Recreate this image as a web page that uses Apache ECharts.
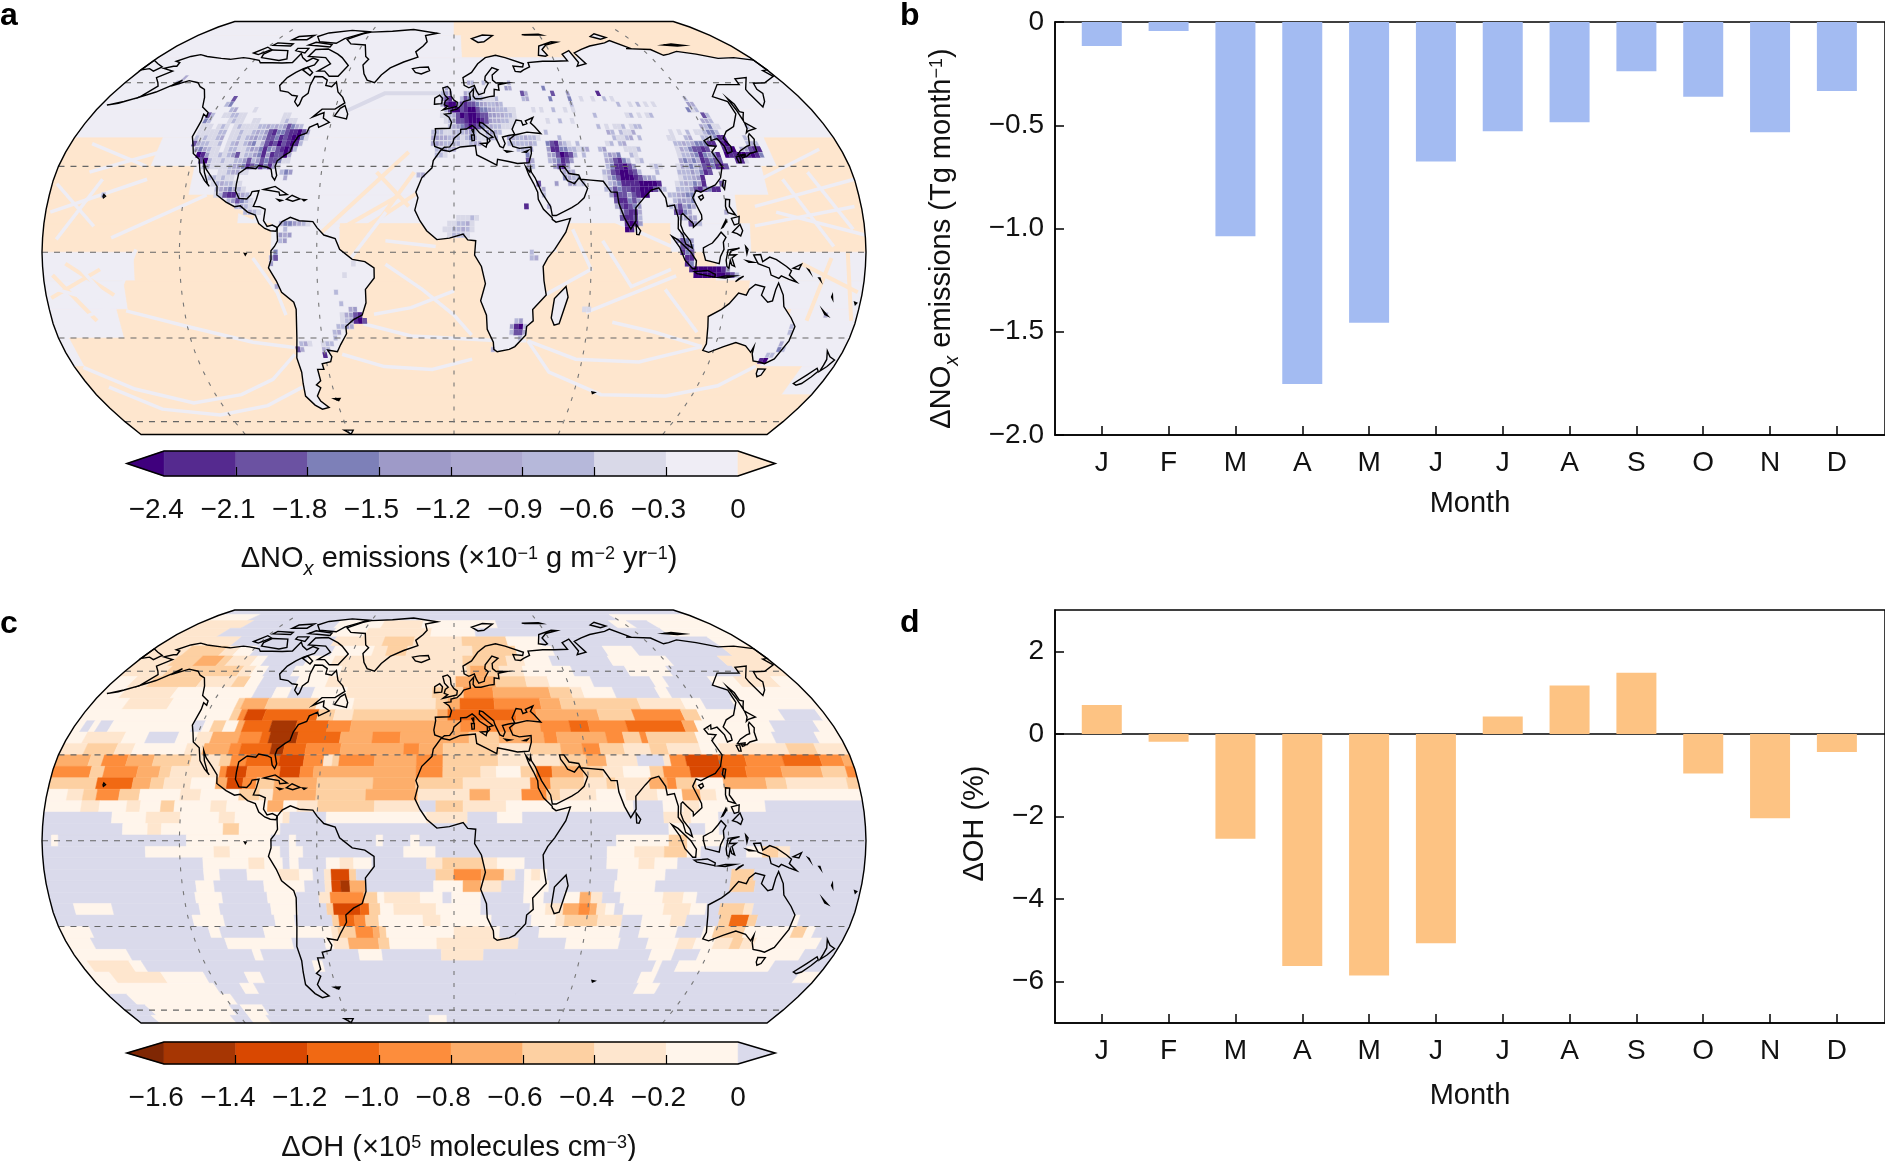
<!DOCTYPE html>
<html lang="en">
<head>
<meta charset="UTF-8">
<title>NOx and OH changes</title>
<script src="https://cdn.jsdelivr.net/npm/echarts@6/dist/echarts.min.js"></script>
<style>
  body { margin: 0; background: #fff; }
  #chart { width: 1885px; height: 1161px; }
</style>
</head>
<body>
<div id="chart"></div>
<script>
// monthly bars
const months = ['J','F','M','A','M','J','J','A','S','O','N','D']
const noxMonthly = [-0.116,-0.044,-1.038,-1.753,-1.456,-0.675,-0.529,-0.485,-0.238,-0.362,-0.534,-0.334]
const ohMonthly = [0.70,-0.19,-2.54,-5.62,-5.85,-5.07,0.42,1.17,1.48,-0.96,-2.04,-0.44]
const ohTicks = [-6,-4,-2,0,2]

// colour bars
const noxBounds = [-2.4,-2.1,-1.8,-1.5,-1.2,-0.9,-0.6,-0.3,0]
const ohBounds = [-1.6,-1.4,-1.2,-1.0,-0.8,-0.6,-0.4,-0.2,0]
const noxColors = ['#3f007d','#552a8f','#6b52a2','#7d80b8','#9e9ac8','#aca8d0','#b6b8da','#d9d9e8','#efedf5','#fee6ce']
const ohColors = ['#7f2704','#a63603','#d94801','#f16913','#fd8d3c','#fdae6b','#fdd0a2','#fee6ce','#fff5eb','#dadaeb']

// dOH map: [lat, [lon, class, lon, class ...]] 4 deg rows, class 0 = above zero, 9 = darkest
const ohLevels = ['#dadaeb','#fff5eb','#fee6ce','#fdd0a2','#fdae6b','#fd8d3c','#f16913','#d94801','#a63603','#7f2704']
const ohRows = [
[88,[-180,0]],
[84,[-180,1,-150,0,120,1]],
[80,[-180,2,-145,0,-82,1,-50,2,-22,1,30,0,112,1,125,0,140,1]],
[76,[-180,2,-152,0,-80,1,-58,2,-15,1,14,0,140,1]],
[72,[-180,2,-136,0,-75,2,-44,3,-25,2,5,3,33,1,54,0,162,1]],
[68,[-180,2,-159,3,-137,2,-129,1,-119,0,-72,1,-48,2,-40,3,-28,2,11,3,37,1,59,0,90,1,108,0,162,2]],
[64,[-180,2,-160,3,-146,4,-133,3,-128,2,-114,1,-108,0,-84,1,-69,2,5,3,30,2,40,1,55,0,89,1,123,0,153,2]],
[60,[-180,2,-157,3,-117,2,-110,1,-103,0,-88,1,-62,2,7,3,9,4,18,3,25,2,38,1,65,0,95,1,118,0,155,2]],
[56,[-180,1,-170,2,-160,3,-134,2,-116,3,-109,1,-102,0,-83,1,-67,2,1,4,22,3,38,2,50,1,73,0,105,1,112,0,136,1,150,2,170,1]],
[52,[-180,1,-169,2,-143,1,-102,0,-92,1,-84,0,-72,1,-55,2,-11,3,5,5,20,4,49,3,60,2,66,1,82,0,104,1,110,0,141,1]],
[48,[-180,1,-163,2,-141,1,-108,3,-105,4,-93,3,-68,1,-50,2,-9,3,-3,4,3,6,20,5,43,4,53,3,92,2,114,1,124,0,139,1]],
[44,[-180,1,-108,3,-104,5,-101,7,-92,6,-66,3,-58,2,-49,3,-8,4,-3,6,30,5,40,4,70,3,87,5,111,3,119,1,159,0,177,1]],
[40,[-180,1,-176,0,-172,1,-169,0,-163,1,-124,0,-119,1,-115,3,-109,1,-103,4,-100,6,-87,8,-75,6,-60,5,-49,4,3,5,28,4,41,5,55,6,64,5,82,6,109,4,115,1,151,0,172,1]],
[36,[-180,1,-172,2,-154,1,-143,0,-129,1,-120,2,-113,4,-100,5,-90,6,-86,8,-73,6,-53,4,-38,5,-25,4,7,3,21,4,42,5,48,4,71,5,79,3,87,5,90,3,113,1,149,0,169,1]],
[32,[-180,2,-169,3,-155,2,-147,1,-123,2,-115,4,-103,5,-98,6,-84,8,-78,6,-68,5,-52,4,-23,5,-16,4,-5,3,21,2,35,3,49,4,59,5,67,3,78,2,90,3,98,2,113,1,122,2,153,3,166,2]],
[28,[-180,4,-165,3,-159,5,-148,4,-136,3,-119,2,-106,3,-101,5,-94,6,-79,7,-68,5,-59,2,-55,3,-52,5,-36,4,-17,5,-5,3,20,2,48,3,60,4,69,2,83,0,95,2,98,5,105,7,120,6,132,5,149,6,166,5,176,4]],
[24,[-180,5,-163,3,-157,5,-142,4,-132,3,-127,2,-105,5,-102,7,-93,5,-78,7,-69,5,-63,4,-17,5,-5,3,12,2,19,1,30,3,37,6,44,4,58,3,67,2,76,1,88,3,94,5,106,7,121,6,131,5,147,4,165,3,176,5]],
[20,[-180,3,-159,6,-143,4,-135,3,-129,2,-117,1,-106,4,-101,7,-94,5,-88,3,-80,4,-61,3,-36,4,-17,3,4,2,34,5,43,3,58,2,68,3,72,2,87,4,95,5,99,3,108,1,120,4,139,3,148,2,175,3]],
[16,[-180,1,-171,2,-164,3,-158,5,-148,3,-139,1,-121,2,-112,1,-95,3,-86,2,-80,4,-61,3,-39,4,-16,2,7,4,16,2,30,5,41,3,47,2,63,1,76,2,90,1,101,4,109,2,116,1]],
[12,[-180,1,-164,2,-156,1,-144,2,-138,1,-129,3,-123,1,-107,2,-100,1,-82,4,-75,1,-69,2,-60,3,-35,2,-15,0,-8,3,4,2,23,1,79,0,92,1,101,2,108,1,137,0]],
[8,[-180,0,-150,1,-135,2,-120,1,-103,2,-96,1,-75,2,-72,0,-56,1,-12,2,6,0,19,1,30,0,92,2,104,1,116,0]],
[4,[-180,0,-145,1,-134,2,-128,1,-101,3,-94,1,-76,0,94,1,103,0,110,1,116,0]],
[0,[-180,0,-176,1,-173,0,-117,1,-80,0,-72,1,-69,0,-34,1,-31,0,-19,1,-15,0,71,1,94,3,102,1,118,0]],
[-4,[-180,0,-135,1,-105,2,-98,1,-76,0,-72,1,-66,0,-22,1,-8,0,67,1,79,2,92,3,102,1,108,0,128,1,135,3,142,2,147,0]],
[-8,[-180,0,-110,1,-90,2,-83,1,-75,0,-72,1,-68,0,-56,1,-50,2,-44,1,-36,0,-12,2,-5,3,13,2,19,1,31,0,67,1,81,2,88,1,98,0]],
[-12,[-180,0,-110,1,-103,0,-91,1,-77,2,-68,1,-62,0,-57,2,-54,7,-46,3,-43,0,-8,3,0,5,12,4,22,2,27,0,31,1,34,2,38,1,41,0,72,1,93,0,122,3,132,0]],
[-16,[-180,0,-114,1,-106,0,-84,1,-66,0,-57,2,-54,7,-50,8,-46,4,-39,0,-9,1,4,4,12,2,21,0,31,1,42,0,71,1,89,0,122,3,133,0]],
[-20,[-180,0,-115,1,-103,0,-83,1,-70,0,-60,2,-55,5,-40,3,-34,1,-31,2,-15,1,-5,0,-1,1,12,0,31,1,40,0,49,1,56,4,61,2,66,0,74,1,93,2,102,1,108,0]],
[-24,[-180,0,-170,1,-153,0,-114,1,-105,0,-82,1,-70,0,-57,3,-54,7,-42,6,-38,3,-33,1,-27,2,-8,1,12,0,34,1,41,2,49,4,56,5,61,4,64,2,68,1,72,0,76,1,94,2,106,1,113,0,119,3,130,2,134,0]],
[-28,[-180,0,-118,1,-104,0,-81,1,-72,0,-55,3,-52,6,-45,5,-40,3,-34,1,-14,2,-6,1,17,0,35,1,46,2,50,3,65,2,76,0,85,1,98,2,105,0,120,3,125,6,133,3,137,0,153,1,156,0]],
[-32,[-180,1,-166,0,-112,1,-107,0,-87,1,-56,2,-53,3,-45,5,-37,4,-34,3,-31,1,0,2,18,1,21,0,39,1,76,0,85,1,102,0,114,1,119,3,133,1,155,3,161,1,165,0]],
[-36,[-180,1,-168,0,-106,1,-75,0,-60,1,-56,2,-49,4,-35,3,-30,1,-8,2,30,0,52,1,77,0,90,1,104,2,112,1,121,2,129,3,134,2,140,1,170,0]],
[-40,[-180,1,-154,0,-95,1,-91,0,-45,1,-34,0,-6,2,14,0,93,1,104,0,116,1,165,0]],
[-44,[-180,1,-176,2,-156,1,-150,0,-68,1,-63,0,97,1,100,0,108,1,154,0]],
[-48,[-180,1,-169,2,-144,1,-123,0,-103,1,-95,0,92,1,100,0,170,1]],
[-52,[-180,1,-121,0,-108,1,-101,0,93,1,104,0]],
[-56,[-180,0,-170,1,-116,0]],
[-60,[-180,0,-166,1,-121,0,-115,1,-103,0]],
[-64,[-180,0,-169,1,-125,0,-115,1,-105,0,-14,1,-4,0]]
]

// dNOx map ocean: 10 deg rows, 0 = above zero, 1 = slightly below
const noxOceanColors = ['#fee6ce','#eeedf5']
const noxOceanRows = [
[85,[-180,1,0,0]],
[75,[-180,1,5,0]],
[65,[-180,1]],
[55,[-180,1]],
[45,[-180,1]],
[35,[-180,0,-138,1,147,0]],
[25,[-180,0,-118,1,140,0]],
[15,[-180,0,-95,1,125,0]],
[5,[-180,0,-80,1,-50,0,12,1,45,0,95,1,130,0]],
[-5,[-180,1,-140,0,115,1]],
[-15,[-180,1,-145,0,130,1]],
[-25,[-180,1,-150,0,150,1]],
[-35,[-180,1,-175,0,145,1]],
[-45,[-180,0,165,1]],
[-55,[-180,0]],
[-65,[-180,0]]
]

// ship tracks, lon/lat polylines
const laneColor = '#eeedf5'
const noxLanes = [
[[-146,-20.5],[-120,-26],[-92,-31.5],[-73.5,-33.3]],
[[-74,-35.7],[-88,-44.5],[-107,-50],[-134,-53],[-158.5,-48],[-176,-40.3]],
[[-75,-47.3],[-96.7,-54],[-125,-57.5],[-153,-55.3],[-170.7,-47.3]],
[[33.7,-31],[57,-37.4],[87,-38.4],[114,-33]],
[[33.7,-31],[45.5,-42],[74,-50],[107,-50.5],[130,-46.8],[143,-39.8]],
[[-52,-35.7],[-33,-40],[-10.4,-41],[8.5,-37.4]],
[[-40.7,-25],[-19.5,-29.3],[16.7,-30.8],[33,-31]],
[[-35.7,-21.7],[-19,-19.4],[0,-13.5]],
[[-30,-4.2],[-14,-13],[0,-22],[8,-29]],
[[-88,-2],[-78,-14],[-75,-22]],
[[93,-13],[110,-28]],
[[58.8,-21],[97.4,-8.3]],
[[71,-24.5],[91,-28],[114,-33]],
[[-151,-18.8],[-167,-2.4]],
[[-151,-18.8],[-139,1]],
[[-151,-18.8],[-175,-13]],
[[-151,-18.8],[-177,-25.8]],
[[133,16],[180,25.5]],
[[132,9.2],[177,16]],
[[147.7,25.5],[166,2]],
[[160,28],[175,8]],
[[128,22],[170,36]],
[[142,14],[180,6]],
[[-178,14],[-138,25.5]],
[[-174,4.5],[-158,25.5]],
[[-158,9],[-178,24]],
[[-165,28],[-128,37]],
[[-170,38],[-140,30]],
[[-150,5],[-110,20]],
[[-45,-2],[-30,14]],
[[-30,4],[-8,2]],
[[52,8],[60,-6],[40,-15]],
[[62,14],[95,2]],
[[65,4],[78,-12],[95,-6]]
]
const noxPeachStreaks = [
[[-58,7],[-21,35]],
[[-50,8],[-24,20]],
[[-42,7],[-12,23]],
[[-34,10],[-18,28]],
[[-35,28],[-20,16]],
[[-170,-4],[-150,-15]],
[[-178,-16],[-155,-6]],
[[-176,-8],[-160,-24]],
[[152,-4],[178,-14]],
[[165,-2],[158,-24]],
[[172,2],[178,-24]],
[[155,2],[178,6]],
[[-88,12],[-100,16]]
]
const noxArc = [[-53.5,49.7],[-36.5,56],[-22.6,56],[-6,56]]

// dNOx hot spots: [lat, first lon, digits per 2 deg], 0 = nothing, 1..8 = weak..strong
const noxHot = [
[60,-152,'23'],[62,-150,'3'],[20,-156,'2'],
[54,-114,'6'],[52,-116,'25'],[50,-124,'0000002300001'],
[48,-124,'0620011221100000000011'],[46,-124,'052000012110011000001211'],
[44,-124,'0111012101211112232324653200'],[42,-124,'0111112201121123246755677863'],
[40,-124,'0212112301121234246657678851'],[38,-124,'0632211201231245136768678720'],
[36,-124,'0045321101221124357546787200'],[34,-124,'0008741121246122457476683000'],
[32,-124,'0000682112112246246566511000'],[30,-124,'0000023111123457657574100000'],
[28,-106,'112331100000002540'],[26,-112,'1221211000000000003'],
[24,-108,'1232211'],[22,-106,'2345321'],[20,-106,'12677432'],[18,-100,'246521'],[16,-96,'2321'],[14,-92,'2321'],
[10,-76,'3554321'],[8,-74,'2'],[6,-76,'434'],[4,-76,'24'],[0,-78,'5'],[-2,-80,'36'],[-4,-80,'4'],[-12,-78,'3'],
[-8,-48,'1'],[-4,-44,'1'],[-14,-52,'2'],[-18,-50,'2'],[-20,-46,'34'],[-22,-50,'13467'],[-24,-50,'124786'],[-26,-52,'2243'],
[-28,-54,'23'],[-30,-54,'2'],[-32,-70,'231'],[-32,-60,'122'],[-34,-72,'63'],[-34,-60,'32'],[-36,-60,'7'],
[-24,28,'24'],[-26,26,'4782'],[-28,26,'2663'],[-30,30,'2'],[-34,18,'3'],
[12,2,'11121'],[10,-2,'112231'],[8,-4,'1122321'],[6,-2,'12221'],[16,32,'7'],[-2,34,'23'],[0,34,'2'],
[34,-8,'221'],[27,-16,'23'],[24,38,'6'],
[60,8,'32'],[60,16,'2'],[60,30,'3'],[58,-4,'3'],[58,10,'2'],[58,28,'43'],[58,48,'5'],
[56,-6,'24300032111'],[56,36,'63'],[56,52,'6'],[56,60,'4'],[56,76,'7'],[54,-6,'367002652221112'],[54,36,'23'],[54,50,'5'],[54,60,'5'],
[52,-6,'3788467665432232'],[52,60,'2'],[52,84,'2'],[50,-6,'0268867886554332211'],[50,22,'22001'],
[48,-6,'1123687887664433221'],[48,70,'2'],[46,-4,'124667888764332211'],[44,-2,'2345687653322111'],
[42,-10,'22211322342114432'],[40,-10,'3433232125311233'],[40,26,'43223221'],[38,-10,'343222211233'],[38,26,'2222232'],
[36,-8,'22323'],[36,30,'2224'],[34,34,'5'],[32,34,'63'],[30,34,'32'],
[42,44,'2'],[40,50,'2'],[38,44,'567421'],[38,58,'2'],[36,44,'4775522'],[36,56,'2123'],[34,44,'3468762'],[34,60,'2'],
[32,44,'245764'],[30,46,'4673'],[28,50,'343'],[26,50,'5322'],[24,52,'4412'],[24,46,'4'],[22,40,'3'],[20,40,'2'],[16,42,'3'],
[54,66,'1001002010'],[52,90,'1020101'],[50,40,'10100200101'],[48,86,'1201012'],[46,46,'1002001'],[44,70,'20101120122'],[42,74,'3202113'],[40,76,'2112302'],[38,72,'12023'],
[36,68,'24'],[36,80,'1112'],[34,70,'2435'],[34,82,'21'],[32,70,'346752'],[32,84,'12'],[30,70,'2577864'],[30,90,'121'],[28,68,'236788762'],[28,92,'2'],[26,68,'135688876442'],
[24,68,'1245777788887'],[22,68,'24656677888642'],[20,70,'476646788'],[18,72,'677564'],[16,72,'367654'],[14,74,'46773'],[12,74,'67762'],[10,76,'7874'],[8,76,'87'],
[54,120,'2'],[52,120,'43'],[50,118,'512'],[48,124,'62'],[46,122,'332'],[44,120,'32511'],[42,104,'101020112552'],
[40,102,'11002300222577'],[38,104,'2232355577'],[36,104,'13256676'],[34,104,'1224575457'],[32,104,'3535376566'],
[30,102,'132524675786'],[28,102,'22242576'],[26,102,'122347'],[24,100,'1232547'],[24,120,'6'],[22,100,'2224677'],[22,112,'4577'],[20,96,'2234'],
[20,104,'55'],[18,98,'24432'],[18,104,'35'],[16,96,'246453'],[14,98,'6753'],[14,120,'3'],[12,100,'2343'],[10,104,'642'],
[38,126,'78'],[36,126,'778'],[34,126,'87'],[44,142,'2'],[40,138,'2'],[38,138,'232'],[36,134,'34677'],[34,130,'7887875'],[32,130,'771'],
[6,100,'3'],[4,98,'4'],[4,100,'654'],[2,100,'665'],[0,100,'756'],[-2,102,'77'],[-4,102,'75'],[-6,104,'788888874'],[-8,106,'8888888762'],
[-20,58,'11'],[-22,166,'3'],[-26,152,'2'],[-28,152,'2'],[-32,150,'3'],[-34,150,'52'],[-36,146,'22'],[-38,144,'78']
]

// coast outlines, lon/lat
const americaNorth = [[-168,65.6],[-164,66.5],[-162,66.5],[-163,68],[-166,68.5],[-161,70.5],[-156.5,71.3],[-151,70.5],[-141,69.7],[-135,69.3],[-128,70],[-124,69.7],[-117,68.9],[-115,67.9],[-108,67.9],[-102,67.8],[-96,68],[-95,71.8],[-92,70],[-88,68.5],[-85.5,69.8],[-81.5,69],[-82,67],[-87,65.5],[-90,64],[-93,62],[-94.5,59],[-92.5,57],[-88,56.5],[-85,55.3],[-82,55],[-82,52.9],[-79.5,51.3],[-79,52],[-79,54.5],[-77,56],[-78,59],[-78,62.4],[-73.5,62.3],[-70,61],[-69.5,59],[-66,58.5],[-64.5,60.3],[-61.5,56.5],[-58,54.5],[-56,52.5],[-60,50.2],[-66.5,50.2],[-70,47.4],[-65,49],[-64.5,47],[-61,45.5],[-65.5,43.7],[-66.5,45],[-70,43.7],[-70.5,41.7],[-74,40.6],[-75.5,38],[-76,35],[-78,34],[-81,32],[-81.4,30],[-80,26.8],[-80.6,25.2],[-82,26.5],[-83,29],[-85,29.7],[-89,30.3],[-90,29.2],[-94,29.6],[-97.3,27.5],[-97.5,24],[-97.5,21.5],[-95.5,18.8],[-92,18.6],[-90.5,20],[-90,21.2],[-87,21.5],[-87.7,18.5],[-88.7,16],[-86,15.9],[-83.3,15],[-83.7,11],[-82,9],[-79.7,9.5],[-77.5,8.6],[-78,7.3],[-80.5,7.5],[-83,8.3],[-85.7,10],[-87.5,13],[-91,14],[-94.5,16.2],[-97,15.9],[-101,17.5],[-105.5,20],[-106,23],[-109,26],[-112.5,29],[-114.5,31.5],[-113,28],[-110.5,24],[-109.5,23],[-112,25],[-115,28],[-117,32.5],[-120.6,34.5],[-122.5,37.8],[-124.3,40.4],[-124,46],[-124.7,48.4],[-122.5,47.5],[-123,49],[-127.5,51],[-130,54.5],[-133.5,57.5],[-137,58.5],[-140,60],[-146,60.8],[-151.5,59.2],[-150,61],[-153,59],[-158,56.5],[-164,54.6],[-160,58.7],[-162,60],[-166,62],[-161,64.5]]
const americaSouth = [[-77.5,8.6],[-75.5,10.7],[-72,12.2],[-68,11],[-62,10.7],[-60,8.5],[-57,6],[-52,4.8],[-50,1],[-44.5,-2.5],[-39,-3.3],[-35,-5.5],[-35,-9],[-39,-13],[-39,-17.7],[-41,-22],[-45,-23.6],[-48.7,-26],[-48.7,-28.5],[-52,-32.3],[-54,-34.8],[-58.4,-34.2],[-57,-36.5],[-58,-38.3],[-62.2,-39],[-62,-41],[-65,-41],[-65,-45],[-67.7,-46.5],[-66,-47.5],[-69,-50.5],[-68.3,-52.3],[-65.2,-54.7],[-69,-55.3],[-72,-53.8],[-75,-50.5],[-74,-46],[-73,-42],[-73.5,-37],[-71.5,-30],[-70.2,-20],[-71,-17.5],[-76,-14],[-78,-10],[-81.2,-5.5],[-80,-2.5],[-80,0.5],[-78.5,2],[-77.2,4],[-77.5,7]]
const afroEurasia = [[-5.6,36],[-9,37],[-9.5,38.7],[-8.8,42],[-9,43.2],[-2,43.4],[-1.2,45.5],[-2.5,47.3],[-4.7,48.4],[-1.5,48.7],[-1.5,49.7],[1.5,50.2],[3.5,51.5],[5,53],[8.5,53.7],[8.2,56],[10.5,57.7],[10,55],[11,54],[14,54],[18.5,54.8],[21,55],[21.5,57.5],[24,57.2],[24,59.2],[29,59.9],[23,59.9],[21.3,61],[21.5,63],[25.3,65],[22,65.9],[17.5,62.5],[17,61],[18.7,59.8],[16.5,57.5],[16,56.2],[13,55.5],[12,56.8],[11,59],[8,58.1],[5.5,59],[5,62],[10,64],[14,67.5],[19,70],[25.5,71],[31,70],[41,67.5],[40,66.2],[34.5,66.6],[35,64.4],[38,64.2],[40,65],[44,66.2],[44,68],[53,68.5],[60,68.5],[68,68.7],[67,71.5],[72.5,73],[74,68],[72,66.5],[78,67.5],[75,72],[81,73.6],[88,75],[100,76.5],[105,77.6],[113,74],[110,73.9],[125,73.5],[129,71],[133,71.5],[140,72.7],[150,71.5],[160,69.7],[170,70],[180,69],[180,65],[177,64.7],[179,62.5],[170,60],[163.5,59.8],[162,57.5],[163,56],[160,53],[156.7,51],[155.7,56],[156,57.5],[163,62],[156,61.5],[155,59.3],[143,59.3],[135,54.8],[141,53],[140.5,48.5],[135.5,44],[130.7,42.3],[127.5,39.8],[129.4,37],[129,35.2],[126.5,34.5],[126.5,37],[124.5,39.7],[121.3,39],[122,40.5],[118,39],[119,37.3],[122.5,37],[119.5,35],[121,32],[122,30],[120,26],[117,23.5],[113.5,22.3],[110,21],[108,21.6],[106,19],[109,13],[109,11.5],[105,8.7],[105,10],[102.5,12],[100.8,13.5],[100,13],[99.5,9.5],[100.5,7],[103.3,4],[104.2,1.4],[101.3,2.9],[100.3,6],[98.3,8.2],[98.7,12],[97.5,16.5],[94.3,16],[94,19],[91.5,22.5],[88,21.7],[85,19.5],[80.3,15.5],[80,11],[77.5,8.1],[75,12],[73,17],[72.7,21],[70,21],[69,22.3],[67,24.8],[61.5,25.2],[57,25.5],[56.3,27],[52,27.5],[50,30],[48,30],[48.3,28.5],[50,26.5],[51,25],[54,24],[56.3,26],[58.5,23.7],[59.7,22.3],[57.8,19],[55,17],[52,15.6],[45,12.8],[43.3,12.8],[42.7,16],[39,21],[36.5,26],[35,28],[34.8,29.5],[34.3,28],[32.6,29.9],[33.8,27],[35.7,24],[37.3,21],[37.4,18.5],[39.5,15],[43.2,12],[43.2,11.5],[44.8,10.5],[51.2,11.8],[49,7],[44,1],[41,-2],[39,-5],[39.5,-10],[40.7,-15],[35,-20],[35.5,-24],[32.7,-26],[32.5,-29],[28,-33],[25.5,-34],[20,-34.8],[18.4,-34],[18,-31.5],[15,-27],[14.5,-22],[11.8,-17],[13.8,-11],[12,-5],[9,-1],[9.5,4],[6,4.3],[4,6.3],[-2,4.9],[-7.5,4.4],[-12,7.5],[-15,11],[-17.3,14.7],[-16,19],[-17,21],[-14.5,26],[-10,29.5],[-9.5,32],[-6,35.8],[-2,35.2],[3,36.8],[10,37.3],[10.5,34],[15,32.3],[19.5,30.4],[20,32.5],[25,31.7],[29,31],[32.3,31.2],[34.3,31.3],[35.8,34.5],[36,36.8],[30.5,36.3],[27.5,37],[26.3,39.5],[29,41],[35,42],[41.5,41.5],[39,44],[37.3,45.3],[39,47.2],[35,46],[35.5,45],[33.5,44.5],[33,46],[30.5,46.3],[28,43],[29,41.2],[26,40.8],[23,40.3],[24,38],[23,36.5],[21.5,37],[19.5,40.5],[19,42],[14,45.2],[12.5,45.5],[12.3,44.3],[16,41.8],[18.5,40.2],[16.5,39.8],[17,38.9],[15.7,38],[15.8,40],[12.2,41.8],[10.3,43.5],[8.8,44.4],[6,43.1],[3.2,43],[3.2,41.8],[0,39.8],[-0.5,38.3],[-2,36.8],[-4.5,36.7],[-5.4,36.1]]
const australia = [[113.6,-22.5],[114.3,-26],[115.7,-32],[115,-34.3],[118,-35],[124,-33],[129,-31.6],[134,-32.7],[137.5,-35],[138,-33],[138.5,-35.5],[140.5,-38],[144,-38.5],[146.5,-39],[150,-37.3],[153,-31],[153.5,-26],[150.8,-23],[146.5,-19],[145.3,-15],[142.6,-10.8],[141.7,-13],[141,-17],[139,-17.5],[135.7,-15],[136.7,-12.2],[132.5,-11.3],[130,-13],[129,-15],[125.5,-14.3],[122,-18],[119,-20]]
const greenland = [[-73,78.2],[-68,76],[-58,75.5],[-54,70.5],[-51.5,69.3],[-53.5,67],[-51,63.5],[-48,61],[-43.5,60],[-41,63],[-37,65.8],[-30,68.2],[-22,70.2],[-24,72.5],[-20,75],[-18,77],[-20,80],[-12,81.3],[-30,83.5],[-45,82.5],[-60,82],[-65,81]]
const islands = [
[[-180,68.9],[-175,67.5],[-170,66.2],[-172,64.5],[-176,65.5],[-180,65]],
[[-164,54.6],[-170,53],[-177,51.7],[-172,52.3]],
[[-80,73.7],[-72,71.5],[-68,70],[-62,66.8],[-65,62.5],[-70,62.5],[-74,64.5],[-78,64.5],[-73,67.5],[-78,70],[-89,70.5],[-88,73.5]],
[[-117,70],[-105,68.8],[-101,69.5],[-105,73],[-115,73.3],[-118,71.5]],
[[-125,72],[-121,71.3],[-116,73.5],[-120,74.5]],
[[-90,77],[-78,76.3],[-75,78.5],[-62,82.2],[-75,83],[-90,81.5],[-95,79.5]],
[[-95,75.5],[-80,74.6],[-80,75.7],[-92,76.8]],
[[-118,75.3],[-106,75],[-106,76],[-117,76.5]],
[[-100,73],[-93,72],[-93,74],[-100,74]],
[[-110,78],[-100,78],[-98,80],[-108,79.5]],
[[-87,65],[-81,62.8],[-80.5,64],[-85,66]],
[[-59.3,47.7],[-53,46.7],[-53,48.5],[-55.5,51.5],[-57.5,50.5]],
[[-24,65.5],[-22,64],[-18.5,63.4],[-14,64.7],[-15,66.2],[-20,66]],
[[-5.5,50],[1.4,51.2],[1.7,52.7],[0,53.5],[-1.5,55],[-2,57.5],[-3.5,58.6],[-6,58],[-5,55.5],[-3,54],[-4.5,53.2],[-5,51.8],[-3.2,51.3]],
[[-10,52],[-6.3,52.2],[-6,54.2],[-7.5,55.3],[-10,54.2]],
[[-84.9,21.9],[-80,23],[-74.2,20.2],[-77.5,19.9],[-78,21]],
[[-74.4,18.5],[-72,19.9],[-68.4,18.6],[-71.5,17.8]],
[[-78.3,18.4],[-76.3,18.1],[-77.3,17.8]],
[[-67.2,18.4],[-65.7,18.3],[-66.5,17.9]],
[[12.5,38],[15.6,38.2],[15,36.7]],
[[8.3,41],[9.7,41],[9.6,39.1],[8.5,39]],
[[8.6,42.8],[9.5,43],[9.4,41.5]],
[[23.6,35.5],[26.3,35.2],[24.5,34.9]],
[[32.3,35],[34.5,35.6],[33.6,34.9]],
[[52,71],[56,70.6],[57.5,71],[56,73.5],[60,75.5],[68.5,76.8],[65,77],[55,75]],
[[12,78.5],[20,80.3],[27,80],[20,77],[16,76.7]],
[[95,79.5],[100,78.2],[105,79],[100,81]],
[[137,75.5],[145,75],[150,75.3],[143,76]],
[[48,80.5],[60,80.8],[62,80.2],[50,80.2]],
[[142,54.3],[143.3,52],[143,49.3],[144.7,49],[142.7,47],[142,46],[142,50]],
[[140,41.8],[141.5,42.5],[145.5,43.3],[142,45.4],[141.5,43.3]],
[[130.9,34],[135,33.5],[136.9,34.5],[140.5,35.2],[141,38],[142,39.5],[141,41.4],[139.9,40.5],[138.5,37.4],[136.8,37],[133,35.5]],
[[130,33.3],[131.7,33.5],[131.3,31.3],[130.3,31.3]],
[[132.5,34],[134.5,34.2],[134,33.3],[132.7,33]],
[[121,25.2],[122,25],[120.8,22],[120.1,23.2]],
[[108.7,19.3],[110.5,20],[110.8,19],[109.5,18.2]],
[[120.5,18.5],[122.3,18.4],[121.7,16],[124,13],[120.8,13.8],[120,16]],
[[122,7],[125.5,9.7],[126.5,7.5],[125.5,5.7],[124,6.5]],
[[122,11.8],[125.5,12.5],[125,10],[123,9.5]],
[[117.5,8.5],[119.5,11.3],[119.7,10.7],[118,8.7]],
[[109,1.5],[111.5,2.6],[113,3.2],[115.5,5.5],[117,7],[119,5.2],[117.8,3.5],[118,1],[116.5,-1.5],[116,-4],[113,-3.4],[110,-2.8],[109,0]],
[[95.3,5.6],[98,4.3],[103.5,0],[106,-3],[105.8,-5.8],[104.5,-5.8],[101,-2.8],[98.7,1.7]],
[[105.2,-6.8],[108.5,-6.6],[111,-6.4],[114.5,-7.8],[114.4,-8.7],[110,-8],[106.5,-7.5]],
[[116,-8.8],[119,-8.3],[123,-8.3],[119,-9]],
[[123.6,-10.3],[127,-8.4],[125,-9.2]],
[[119.8,0.8],[124.8,1.4],[121,0.4],[120.3,-1],[123.3,-0.9],[121.5,-2],[122.8,-5],[121.5,-4.5],[120.8,-2.8],[120.3,-5.6],[119.4,-5],[119,-2.8]],
[[127.5,2],[128.5,1],[128,-0.5]],
[[128,-3],[130.8,-3.5],[129,-3.5]],
[[131,-1],[134,-0.8],[135,-3.3],[138,-1.7],[141,-2.6],[145.5,-5],[147.8,-6.5],[147,-8],[150.5,-10.5],[147,-9.5],[143.5,-8.3],[142.5,-9.2],[139,-8],[138,-5.5],[133,-4],[132,-2.5]],
[[148.5,-5.6],[152,-4.2],[151,-6]],
[[155,-6],[156,-7],[155.5,-6.2]],
[[160,-9],[161,-10],[160.5,-9]],
[[167,-15],[167.5,-16.5],[166.8,-15.7]],
[[164,-20.2],[167,-22.3],[165.5,-21.8]],
[[177.5,-17.5],[178.5,-17.8],[178,-18.3]],
[[144.7,-40.8],[148.3,-40.9],[148,-43],[146.5,-43.6],[145.3,-42.5]],
[[172.7,-34.5],[175.5,-36.6],[178.5,-37.7],[176.8,-40],[175,-41.6],[174.8,-39.5],[174.7,-37.5]],
[[172.7,-40.6],[174.3,-41.7],[172.8,-43.7],[170.5,-46],[168.4,-46.6],[166.5,-46],[170,-43]],
[[49.3,-12],[50.4,-15.7],[47.2,-25],[45,-25.5],[43.5,-23],[44.4,-16.2]],
[[79.9,9.7],[81.8,7.5],[81,6.1],[80,6.2]],
[[-155.8,20.2],[-154.9,19.6],[-155.7,19],[-156,19.5]],
[[69,-49],[70.5,-49.2],[69.5,-49.6]],
[[-61,-51.5],[-58,-51.4],[-59,-52.2]],
[[-62,-63.3],[-57,-63.3],[-59,-64.8]],
[[-91.6,-0.4],[-90.8,-0.5],[-91.2,-1]]
]
const coasts = [americaNorth, americaSouth, afroEurasia, australia, greenland].concat(islands)

// Robinson table, every 5 deg of latitude
const robinsonLen = [1,.9986,.9954,.99,.9822,.973,.96,.9427,.9216,.8962,.8679,.835,.7986,.7597,.7186,.6732,.6213,.5722,.5322]
const robinsonDepth = [0,.062,.124,.186,.248,.31,.372,.434,.4958,.5571,.6176,.6769,.7346,.7903,.8435,.8936,.9394,.9761,1]
function lookup(table, lat) {
  const t = Math.min(Math.abs(lat) / 5, 17.9999)
  const i = Math.floor(t)
  return table[i] + (table[i + 1] - table[i]) * (t - i)
}
const robinson = {
  project(p) {
    const y = lookup(robinsonDepth, p[1]) * 1.3523 * (p[1] < 0 ? -1 : 1)
    return [0.8487 * lookup(robinsonLen, p[1]) * p[0] * Math.PI / 180, -y]
  },
  unproject(p) { return p }
}

// outline of the map, cut at 65S
const frame = []
for (let lat = -65; lat <= 90; lat += 5) frame.push([-180, lat])
for (let lat = 90; lat >= -65; lat -= 5) frame.push([180, lat])

const worldGeo = {
  type: 'FeatureCollection',
  features: coasts.concat([frame]).map((ring, i) => ({
    type: 'Feature',
    properties: { name: 'r' + i },
    geometry: { type: 'Polygon', coordinates: [ring.concat([ring[0]])] }
  }))
}
echarts.registerMap('world', worldGeo)

function rowShapes(rows, height, colors) {
  const out = []
  rows.forEach(([lat, runs]) => {
    const top = Math.min(lat + height / 2, 90)
    const bottom = Math.max(lat - height / 2, -65)
    for (let i = 0; i < runs.length; i += 2) {
      const from = runs[i]
      const to = i + 2 < runs.length ? runs[i + 2] : 180
      const c = colors[runs[i + 1]]
      out.push({ pts: [[from, top], [to, top], [to, bottom], [from, bottom]], fill: c, stroke: c, width: 0.5 })
    }
  })
  return out
}

// soft halo first, then a smaller core, so dense areas do not read as plain blocks
function hotShapes() {
  const halo = [], core = []
  noxHot.forEach(([lat, lon, digits]) => {
    digits.split('').forEach((d, i) => {
      if (d === '0') return
      const level = Number(d)
      const x = lon + i * 2
      const cell = r => [[x - r, lat + r], [x + r, lat + r], [x + r, lat - r], [x - r, lat - r]]
      halo.push({ pts: cell(1), fill: noxColors[level > 4 ? 6 : 7] })
      if (level > 1) core.push({ pts: cell(level > 5 ? 1 : 0.8), fill: noxColors[8 - level] })
    })
  })
  return halo.concat(core)
}

function graticule() {
  const out = []
  ;[-60, -30, 0, 30, 60].forEach(lat => out.push({ pts: [[-180, lat], [180, lat]], stroke: '#666', width: 1.1, dash: [6, 6] }))
  ;[-120, -60, 0, 60, 120].forEach(lon => {
    const pts = []
    for (let lat = -65; lat <= 85; lat += 5) pts.push([lon, lat])
    out.push({ pts, stroke: '#777', width: 1.1, dash: [4, 8] })
  })
  return out
}

const noxShapes = [{ pts: frame, fill: noxOceanColors[0] }]
  .concat(rowShapes(noxOceanRows, 10, noxOceanColors))
  .concat(noxPeachStreaks.map(pts => ({ pts, stroke: noxOceanColors[0], width: 4 })))
  .concat(noxLanes.map(pts => ({ pts, stroke: laneColor, width: 3.5 })))
  .concat(coasts.map(pts => ({ pts, fill: noxOceanColors[1] })))
  .concat([{ pts: noxArc, stroke: noxColors[7], width: 4 }])
  .concat(hotShapes())
  .concat(graticule())

const ohShapes = rowShapes(ohRows, 4, ohLevels).concat(graticule())

function mapSeries(shapes, geoIndex) {
  return {
    type: 'custom', coordinateSystem: 'geo', geoIndex, silent: true, z: 2, animation: false,
    data: shapes.map(s => s.pts[0]),
    renderItem(params, api) {
      const s = shapes[params.dataIndex]
      return {
        type: s.fill ? 'polygon' : 'polyline',
        shape: { points: s.pts.map(p => api.coord(p)) },
        style: { fill: s.fill || null, stroke: s.stroke || null, lineWidth: s.width || 0, lineDash: s.dash || null }
      }
    }
  }
}

function geoBox(top) {
  return {
    map: 'world', projection: robinson, roam: false, silent: true, z: 5,
    left: 42, top, width: 824, height: 413,
    label: { show: false },
    itemStyle: { areaColor: 'transparent', borderColor: '#000', borderWidth: 1.4 },
    emphasis: { disabled: true }, select: { disabled: true }
  }
}

const minus = v => String(v).replace('-', '\u2212')

function colorBar(bounds, colors, gridIndex, extra) {
  const n = bounds.length - 1
  const lo = bounds[0], hi = bounds[n]
  return {
    type: 'custom', xAxisIndex: gridIndex, yAxisIndex: gridIndex, silent: true, z: 2, animation: false,
    data: colors.map((c, i) => [i, 0]),
    renderItem(params, api) {
      const i = params.dataIndex
      let pts
      if (i === 0) pts = [[lo, 0], [lo, 1], [lo - extra, 0.5]]
      else if (i === colors.length - 1) pts = [[hi, 0], [hi, 1], [hi + extra, 0.5]]
      else pts = [[bounds[i - 1], 0], [bounds[i - 1], 1], [bounds[i], 1], [bounds[i], 0]]
      const outline = [[lo - extra, 0.5], [lo, 1], [hi, 1], [hi + extra, 0.5], [hi, 0], [lo, 0]]
      const children = [{ type: 'polygon', shape: { points: pts.map(p => api.coord(p)) }, style: { fill: colors[i], stroke: colors[i], lineWidth: 0.5 } }]
      if (i === colors.length - 1) children.push({ type: 'polygon', shape: { points: outline.map(p => api.coord(p)) }, style: { fill: null, stroke: '#000', lineWidth: 1.6 } })
      return { type: 'group', children }
    }
  }
}

const labelFont = { fontFamily: 'Liberation Sans', fontSize: 28, color: '#111' }
const nameFont = { fontFamily: 'Liberation Sans', fontSize: 29, fontWeight: 'normal', color: '#111' }
const richName = {
  a: { ...nameFont, lineHeight: 40 },
  s: { fontFamily: 'Liberation Sans', fontSize: 18, fontWeight: 'normal', color: '#111', lineHeight: 40, verticalAlign: 'top', padding: [6, 0, 0, 0] },
  x: { fontFamily: 'Liberation Sans', fontSize: 20, fontWeight: 'normal', fontStyle: 'italic', color: '#111', lineHeight: 40, verticalAlign: 'bottom' }
}

function barX(gridIndex, nameGap) {
  return {
    type: 'value', gridIndex, min: 0.3, max: 12.72, name: 'Month', nameLocation: 'middle', nameGap,
    nameTextStyle: nameFont, position: 'bottom',
    axisLine: { onZero: false, lineStyle: { color: '#000', width: 1.5 } },
    axisTick: { inside: true, length: 9, customValues: months.map((m, i) => i + 1), lineStyle: { color: '#000', width: 1.5 } },
    axisLabel: { ...labelFont, margin: 14, customValues: months.map((m, i) => i + 1), formatter: v => months[v - 1], showMinLabel: true, showMaxLabel: true },
    splitLine: { show: false }
  }
}
function cbX(gridIndex, bounds, extra) {
  return {
    type: 'value', gridIndex, min: bounds[0] - extra, max: extra, z: 6,
    axisLine: { show: false },
    axisTick: { inside: true, length: 9, customValues: bounds.slice(1, -1), lineStyle: { color: '#000', width: 1.2 } },
    axisLabel: { ...labelFont, margin: 20, customValues: bounds, formatter: v => v === 0 ? '0' : minus(v.toFixed(1)) + '\u00a0\u00a0' },
    splitLine: { show: false }
  }
}
const cbY = gridIndex => ({ type: 'value', gridIndex, min: 0, max: 1, show: false })

function panelLetter(text, left, top) {
  return { text, left, top, padding: 0, textStyle: { fontFamily: 'Liberation Sans', fontSize: 32, fontWeight: 'bold', color: '#000' } }
}

const noxExtra = 0.155, ohExtra = 0.103

const option = {
  animation: false,
  backgroundColor: '#fff',
  title: [
    panelLetter('a', 0, 0), panelLetter('b', 900, 0), panelLetter('c', 0, 608), panelLetter('d', 900, 607),
    { text: '{a|\u0394NO}{x|x}{a| emissions (\u00d710}{s|\u22121}{a| g m}{s|\u22122}{a| yr}{s|\u22121}{a|)}', left: 459, top: 539, textAlign: 'center', padding: 0, textStyle: { rich: richName } },
    { text: '{a|\u0394OH (\u00d710}{s|5}{a| molecules cm}{s|\u22123}{a|)}', left: 459, top: 1128, textAlign: 'center', padding: 0, textStyle: { rich: richName } }
  ],
  geo: [geoBox(21.5), geoBox(610)],
  grid: [
    { left: 1055, top: 22, width: 830, height: 413, show: true, backgroundColor: 'transparent', borderColor: '#000', borderWidth: 1.5 },
    { left: 1055, top: 610, width: 830, height: 413, show: true, backgroundColor: 'transparent', borderColor: '#000', borderWidth: 1.5 },
    { left: 127, top: 451, width: 648, height: 25 },
    { left: 127, top: 1042, width: 648, height: 22 }
  ],
  xAxis: [barX(0, 54), barX(1, 58), cbX(2, noxBounds, noxExtra), cbX(3, ohBounds, ohExtra)],
  yAxis: [
    {
      type: 'value', gridIndex: 0, min: -2, max: 0, interval: 0.5,
      name: '{a|\u0394NO}{x|x}{a| emissions (Tg month}{s|\u22121}{a|)}', nameLocation: 'middle', nameGap: 93, nameRotate: 90,
      nameTextStyle: { rich: richName, padding: [0, 20, 0, 0] },
      axisLine: { lineStyle: { color: '#000', width: 1.5 } },
      axisTick: { inside: true, length: 9, lineStyle: { color: '#000', width: 1.5 } },
      axisLabel: { ...labelFont, margin: 11, formatter: v => v === 0 ? '0' : minus(v.toFixed(1)) },
      splitLine: { show: false }
    },
    {
      type: 'value', gridIndex: 1, min: -7, max: 3,
      name: '\u0394OH (%)', nameLocation: 'middle', nameGap: 66, nameRotate: 90, nameTextStyle: { ...nameFont, padding: [0, 14, 0, 0] },
      axisLine: { lineStyle: { color: '#000', width: 1.5 } },
      axisTick: { inside: true, length: 9, customValues: ohTicks, lineStyle: { color: '#000', width: 1.5 } },
      axisLabel: { ...labelFont, margin: 11, customValues: ohTicks, formatter: v => minus(v) },
      splitLine: { show: false }
    },
    cbY(2), cbY(3)
  ],
  series: [
    mapSeries(noxShapes, 0),
    mapSeries(ohShapes, 1),
    { type: 'bar', xAxisIndex: 0, yAxisIndex: 0, barWidth: 40, z: 2, silent: true, itemStyle: { color: '#a3bbf2' }, data: noxMonthly.map((v, i) => [i + 1, v]) },
    {
      type: 'bar', xAxisIndex: 1, yAxisIndex: 1, barWidth: 40, z: 2, silent: true, itemStyle: { color: '#fdc383' }, data: ohMonthly.map((v, i) => [i + 1, v]),
      markLine: { silent: true, symbol: 'none', z: 1, label: { show: false }, lineStyle: { color: '#000', width: 1.5, type: 'solid' }, data: [{ yAxis: 0 }] }
    },
    colorBar(noxBounds, noxColors, 2, noxExtra),
    colorBar(ohBounds, ohColors, 3, ohExtra)
  ]
}

const myChart = echarts.init(document.getElementById('chart'), null, { renderer: 'canvas' })
myChart.setOption(option)
</script>
</body>
</html>
